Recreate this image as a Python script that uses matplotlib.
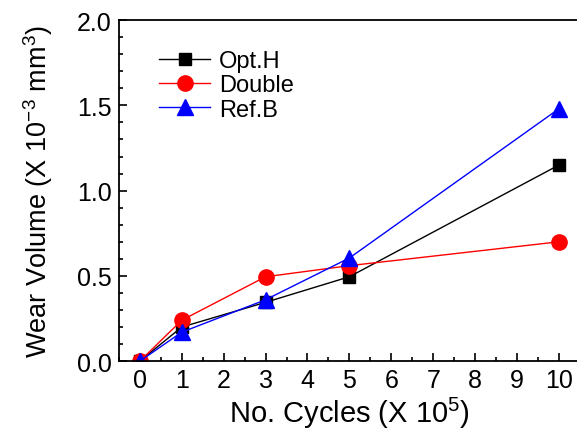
import numpy as np
import matplotlib.pyplot as plt
from matplotlib.ticker import MultipleLocator

plt.rcParams['font.family'] = ['Liberation Sans', 'DejaVu Sans']
plt.rcParams['mathtext.fontset'] = 'custom'
plt.rcParams['mathtext.rm'] = 'Liberation Sans'
plt.rcParams['mathtext.it'] = 'Liberation Sans'

# 数据
cycles = [0, 1, 3, 5, 10]
opt_h = [0.0, 0.20, 0.345, 0.495, 1.15]
double = [0.0, 0.24, 0.495, 0.56, 0.70]
ref_b = [0.0, 0.17, 0.36, 0.605, 1.48]
xticks = list(range(0, 11))

fig = plt.figure(figsize=(5.77, 4.39), dpi=100)
ax = fig.add_axes([0.206, 0.175, 0.799, 0.777])

ax.plot(cycles, opt_h, color='black', marker='s', markersize=9, lw=1.0, label='Opt.H')
ax.plot(cycles, double, color='red', marker='o', markersize=11, lw=1.0, label='Double')
ax.plot(cycles, ref_b, color='blue', marker='^', markersize=12, lw=1.0, label='Ref.B')

ax.set_xlim(-0.5, 10.5)
ax.set_ylim(0, 2.0)
ax.set_xticks(xticks)
ax.xaxis.set_minor_locator(MultipleLocator(0.5))
ax.yaxis.set_major_locator(MultipleLocator(0.5))
ax.yaxis.set_minor_locator(MultipleLocator(0.1))
ax.yaxis.set_major_formatter(plt.FormatStrFormatter('%.1f'))
ax.tick_params(which='both', direction='in', labelsize=18, width=1.2)
ax.tick_params(which='major', length=6, pad=5)
ax.tick_params(which='minor', length=3)
for s in ax.spines.values():
    s.set_linewidth(1.3)

ax.set_xlabel(r'No. Cycles (X 10$^{5}$)', fontsize=21, labelpad=2)
ax.set_ylabel(r'Wear Volume (X 10$^{-3}$ mm$^{3}$)', fontsize=19.5, labelpad=16)

ax.legend(loc='upper left', bbox_to_anchor=(0.04, 0.975), frameon=False,
          fontsize=17, handlelength=2.2, labelspacing=0.1, handletextpad=0.35)

fig.savefig('out.png', dpi=100)
